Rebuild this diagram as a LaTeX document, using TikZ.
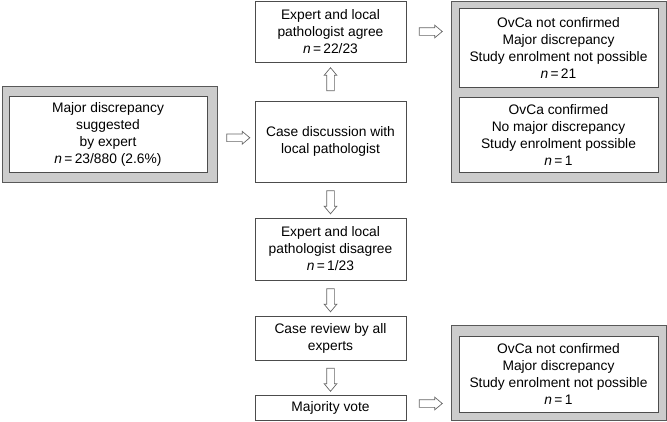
\documentclass[tikz,border=0pt]{standalone}
\usepackage{fontspec}
\setmainfont{Liberation Sans}
\usetikzlibrary{calc,shapes.arrows}

\begin{document}
\begin{tikzpicture}[x=1pt,y=-1pt,
	box/.style={draw=black!70,fill=white,line width=0.8pt,align=center,inner sep=0pt,font=\fontsize{13.8}{17}\selectfont},
	greybox/.style={draw=black!65,fill=black!20,line width=0.9pt,inner sep=0pt},
	blockarrow/.style={single arrow,draw=black!60,fill=white,line width=0.7pt,inner xsep=0pt,inner ysep=3.5pt,single arrow head extend=2.5pt,single arrow tip angle=80,minimum height=23pt}]
	%%%%% START %%%%%
	\def\xc{330.5}
	\def\xr{558.5}
	\def\wc{151pt}
	\def\wr{199pt}
	\useasboundingbox (0,0) rectangle (667,421);

	% left
	\node[greybox,minimum width=215pt,minimum height=96pt] (leftgrey) at (109.5,134) {};
	\node[box,minimum width=198pt,minimum height=76pt] (major) at (108,134) {Major discrepancy\\suggested\\by expert\\\textit{n}\,=\,23/880 (2.6\%)};

	% centre
	\node[box,minimum width=\wc,minimum height=61pt] (agree) at (\xc,31.5) {Expert and local\\pathologist agree\\\textit{n}\,=\,22/23};
	\node[box,minimum width=\wc,minimum height=81pt] (discuss) at (\xc,141.5) {Case discussion with\\local pathologist};
	\node[box,minimum width=\wc,minimum height=62pt] (disagree) at (\xc,249) {Expert and local\\pathologist disagree\\\textit{n}\,=\,1/23};
	\node[box,minimum width=\wc,minimum height=44pt] (review) at (\xc,338) {Case review by all\\experts};
	\node[box,minimum width=\wc,minimum height=25pt] (vote) at (\xc,407.5) {Majority vote};

	% right
	\node[greybox,minimum width=215pt,minimum height=181pt] (topgrey) at (\xr,91.5) {};
	\node[box,minimum width=\wr,minimum height=79pt] (notconf) at (\xr,47.5) {OvCa not confirmed\\Major discrepancy\\Study enrolment not possible\\\textit{n}\,=\,21};
	\node[box,minimum width=\wr,minimum height=75pt] (conf) at (\xr,134.5) {OvCa confirmed\\No major discrepancy\\Study enrolment possible\\\textit{n}\,=\,1};
	\node[greybox,minimum width=215pt,minimum height=95pt] (botgrey) at (\xr,372.5) {};
	\node[box,minimum width=\wr,minimum height=76pt] (notconfb) at (\xr,374) {OvCa not confirmed\\Major discrepancy\\Study enrolment not possible\\\textit{n}\,=\,1};

	% arrows
	\node[blockarrow] (arrleft) at ($(leftgrey.east)!0.5!(discuss.west)$) {};
	\node[blockarrow,rotate=90] (arrup) at ($(discuss.north)!0.5!(agree.south)$) {};
	\node[blockarrow,rotate=-90] (arrdowna) at ($(discuss.south)!0.5!(disagree.north)$) {};
	\node[blockarrow,rotate=-90] (arrdownb) at ($(disagree.south)!0.5!(review.north)$) {};
	\node[blockarrow,rotate=-90] (arrdownc) at ($(review.south)!0.5!(vote.north)$) {};
	\node[blockarrow] (arrtop) at ($(agree.east)!0.5!(agree.east -| topgrey.west)$) {};
	\node[blockarrow] (arrbot) at ($(vote.east)!0.5!(vote.east -| botgrey.west)+(0,-4)$) {};
	%%%%% END %%%%%
\end{tikzpicture}
\end{document}
